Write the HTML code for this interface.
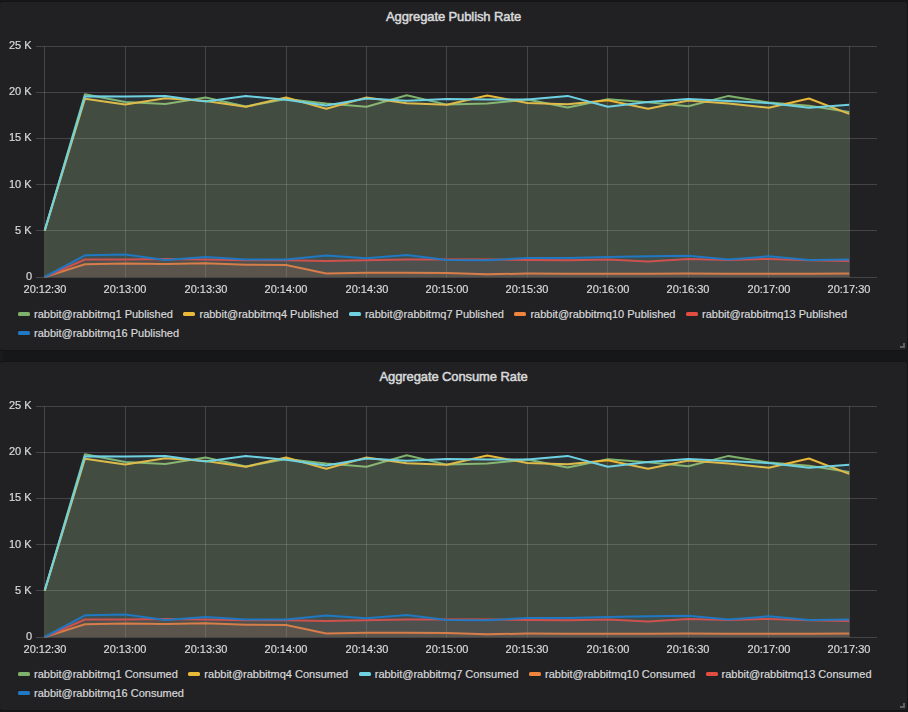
<!DOCTYPE html>
<html><head><meta charset="utf-8"><style>
html,body{margin:0;padding:0;}
body{width:908px;height:712px;background:#161719;position:relative;overflow:hidden;font-family:"Liberation Sans",sans-serif;}
.panel{position:absolute;left:-1px;width:907px;height:348px;background:#212124;border:1px solid #141414;border-radius:3px;}
.wrap{position:absolute;left:0;width:908px;height:360px;}
.title{position:absolute;left:0;width:907px;top:9px;text-align:center;font-size:13px;font-weight:normal;color:#d8d9da;-webkit-text-stroke:0.5px #d8d9da;letter-spacing:-0.1px;line-height:16px;}
.plot{position:absolute;left:0;top:0;}
.yl{will-change:transform;position:absolute;right:876px;font-size:11px;line-height:13px;color:#d8d9da;white-space:nowrap;-webkit-text-stroke:0.2px #d8d9da;}
.xl{will-change:transform;position:absolute;width:80px;text-align:center;top:283px;font-size:11px;line-height:13px;color:#d8d9da;-webkit-text-stroke:0.2px #d8d9da;}
.legend{position:absolute;left:8px;top:305px;width:880px;font-size:11px;line-height:19px;color:#d8d9da;-webkit-text-stroke:0.2px #d8d9da;}
.li{display:inline-block;padding-left:10px;margin-right:0.5px;white-space:nowrap;}
.li i{display:inline-block;width:12px;height:4px;border-radius:1.5px;margin-right:4px;vertical-align:middle;position:relative;top:-1px;}
.rh{position:absolute;left:900px;top:343px;width:5px;height:5px;}
.rh:before{content:"";position:absolute;right:0;bottom:0;width:2px;height:5px;background:#606060;}
.rh:after{content:"";position:absolute;right:0;bottom:0;width:5px;height:2px;background:#606060;}
</style></head><body>
<div class="panel" style="top:1px"></div><div class="wrap" style="top:0px">
<div class="title">Aggregate Publish Rate</div>
<svg class="plot" width="907" height="300" viewBox="0 0 907 300"><path d="M36 46.5H877 M36 92.5H877 M36 138.5H877 M36 184.5H877 M36 230.5H877 M36 277.5H877 M44.5 46.5V277.5 M125.5 46.5V277.5 M205.5 46.5V277.5 M286.5 46.5V277.5 M366.5 46.5V277.5 M446.5 46.5V277.5 M527.5 46.5V277.5 M607.5 46.5V277.5 M688.5 46.5V277.5 M768.5 46.5V277.5 M849.5 46.5V277.5" stroke="rgba(200,200,200,0.22)" stroke-width="1" fill="none"/>
<path d="M44.70 230.50 L84.93 94.30 L125.15 102.10 L165.38 104.00 L205.60 97.60 L245.82 106.60 L286.05 98.90 L326.27 103.50 L366.50 106.80 L406.73 95.30 L446.95 104.60 L487.18 103.50 L527.40 99.50 L567.63 107.40 L607.85 99.20 L648.08 102.30 L688.30 106.20 L728.53 95.90 L768.75 102.50 L808.98 105.70 L849.20 111.90 L849.20 277.1 L44.70 277.1 Z" fill="#7EB26D" fill-opacity="0.107" stroke="none"/>
<path d="M44.70 230.50 L84.93 94.30 L125.15 102.10 L165.38 104.00 L205.60 97.60 L245.82 106.60 L286.05 98.90 L326.27 103.50 L366.50 106.80 L406.73 95.30 L446.95 104.60 L487.18 103.50 L527.40 99.50 L567.63 107.40 L607.85 99.20 L648.08 102.30 L688.30 106.20 L728.53 95.90 L768.75 102.50 L808.98 105.70 L849.20 111.90" fill="none" stroke="#7EB26D" stroke-width="2" stroke-linejoin="round"/>
<path d="M44.70 230.70 L84.93 98.80 L125.15 104.40 L165.38 98.20 L205.60 101.00 L245.82 106.70 L286.05 97.50 L326.27 108.80 L366.50 97.50 L406.73 103.20 L446.95 104.70 L487.18 95.50 L527.40 102.90 L567.63 104.30 L607.85 100.30 L648.08 108.80 L688.30 100.60 L728.53 103.50 L768.75 107.70 L808.98 98.50 L849.20 113.90 L849.20 277.1 L44.70 277.1 Z" fill="#EAB839" fill-opacity="0.107" stroke="none"/>
<path d="M44.70 230.70 L84.93 98.80 L125.15 104.40 L165.38 98.20 L205.60 101.00 L245.82 106.70 L286.05 97.50 L326.27 108.80 L366.50 97.50 L406.73 103.20 L446.95 104.70 L487.18 95.50 L527.40 102.90 L567.63 104.30 L607.85 100.30 L648.08 108.80 L688.30 100.60 L728.53 103.50 L768.75 107.70 L808.98 98.50 L849.20 113.90" fill="none" stroke="#EAB839" stroke-width="2" stroke-linejoin="round"/>
<path d="M44.70 230.40 L84.93 96.30 L125.15 96.50 L165.38 96.00 L205.60 101.50 L245.82 95.90 L286.05 99.80 L326.27 105.40 L366.50 98.50 L406.73 100.80 L446.95 98.90 L487.18 99.50 L527.40 99.50 L567.63 95.90 L607.85 106.80 L648.08 101.90 L688.30 99.00 L728.53 100.90 L768.75 103.00 L808.98 107.70 L849.20 104.70 L849.20 277.1 L44.70 277.1 Z" fill="#6ED0E0" fill-opacity="0.107" stroke="none"/>
<path d="M44.70 230.40 L84.93 96.30 L125.15 96.50 L165.38 96.00 L205.60 101.50 L245.82 95.90 L286.05 99.80 L326.27 105.40 L366.50 98.50 L406.73 100.80 L446.95 98.90 L487.18 99.50 L527.40 99.50 L567.63 95.90 L607.85 106.80 L648.08 101.90 L688.30 99.00 L728.53 100.90 L768.75 103.00 L808.98 107.70 L849.20 104.70" fill="none" stroke="#6ED0E0" stroke-width="2" stroke-linejoin="round"/>
<path d="M44.70 277.00 L84.93 264.30 L125.15 263.50 L165.38 263.90 L205.60 263.30 L245.82 264.70 L286.05 265.00 L326.27 273.40 L366.50 272.70 L406.73 272.80 L446.95 273.00 L487.18 274.20 L527.40 273.60 L567.63 273.80 L607.85 273.80 L648.08 273.80 L688.30 273.60 L728.53 273.80 L768.75 273.80 L808.98 273.80 L849.20 273.40 L849.20 277.1 L44.70 277.1 Z" fill="#EF843C" fill-opacity="0.107" stroke="none"/>
<path d="M44.70 277.00 L84.93 264.30 L125.15 263.50 L165.38 263.90 L205.60 263.30 L245.82 264.70 L286.05 265.00 L326.27 273.40 L366.50 272.70 L406.73 272.80 L446.95 273.00 L487.18 274.20 L527.40 273.60 L567.63 273.80 L607.85 273.80 L648.08 273.80 L688.30 273.60 L728.53 273.80 L768.75 273.80 L808.98 273.80 L849.20 273.40" fill="none" stroke="#EF843C" stroke-width="2" stroke-linejoin="round"/>
<path d="M44.70 277.00 L84.93 259.50 L125.15 259.50 L165.38 258.90 L205.60 259.50 L245.82 260.30 L286.05 260.30 L326.27 260.90 L366.50 260.30 L406.73 259.50 L446.95 259.50 L487.18 259.50 L527.40 259.90 L567.63 260.30 L607.85 259.50 L648.08 261.50 L688.30 258.90 L728.53 259.90 L768.75 258.90 L808.98 260.30 L849.20 260.90 L849.20 277.1 L44.70 277.1 Z" fill="#E24D42" fill-opacity="0.107" stroke="none"/>
<path d="M44.70 277.00 L84.93 259.50 L125.15 259.50 L165.38 258.90 L205.60 259.50 L245.82 260.30 L286.05 260.30 L326.27 260.90 L366.50 260.30 L406.73 259.50 L446.95 259.50 L487.18 259.50 L527.40 259.90 L567.63 260.30 L607.85 259.50 L648.08 261.50 L688.30 258.90 L728.53 259.90 L768.75 258.90 L808.98 260.30 L849.20 260.90" fill="none" stroke="#E24D42" stroke-width="2" stroke-linejoin="round"/>
<path d="M44.70 277.00 L84.93 255.30 L125.15 254.50 L165.38 259.90 L205.60 256.90 L245.82 259.50 L286.05 259.50 L326.27 255.50 L366.50 258.30 L406.73 254.90 L446.95 259.90 L487.18 260.30 L527.40 257.90 L567.63 257.90 L607.85 256.90 L648.08 256.30 L688.30 255.70 L728.53 259.50 L768.75 256.30 L808.98 259.90 L849.20 259.50 L849.20 277.1 L44.70 277.1 Z" fill="#1F78C1" fill-opacity="0.107" stroke="none"/>
<path d="M44.70 277.00 L84.93 255.30 L125.15 254.50 L165.38 259.90 L205.60 256.90 L245.82 259.50 L286.05 259.50 L326.27 255.50 L366.50 258.30 L406.73 254.90 L446.95 259.90 L487.18 260.30 L527.40 257.90 L567.63 257.90 L607.85 256.90 L648.08 256.30 L688.30 255.70 L728.53 259.50 L768.75 256.30 L808.98 259.90 L849.20 259.50" fill="none" stroke="#1F78C1" stroke-width="2" stroke-linejoin="round"/></svg>
<div class="yl" style="top:39px">25 K</div><div class="yl" style="top:85px">20 K</div><div class="yl" style="top:131px">15 K</div><div class="yl" style="top:178px">10 K</div><div class="yl" style="top:224px">5 K</div><div class="yl" style="top:270px">0</div><div class="xl" style="left:4.7px">20:12:30</div><div class="xl" style="left:85.2px">20:13:00</div><div class="xl" style="left:165.6px">20:13:30</div><div class="xl" style="left:246.1px">20:14:00</div><div class="xl" style="left:326.5px">20:14:30</div><div class="xl" style="left:406.9px">20:15:00</div><div class="xl" style="left:487.4px">20:15:30</div><div class="xl" style="left:567.9px">20:16:00</div><div class="xl" style="left:648.3px">20:16:30</div><div class="xl" style="left:728.8px">20:17:00</div><div class="xl" style="left:809.2px">20:17:30</div>
<div class="legend"><span class="li"><i style="background:#7EB26D"></i>rabbit@rabbitmq1 Published</span><span class="li"><i style="background:#EAB839"></i>rabbit@rabbitmq4 Published</span><span class="li"><i style="background:#6ED0E0"></i>rabbit@rabbitmq7 Published</span><span class="li"><i style="background:#EF843C"></i>rabbit@rabbitmq10 Published</span><span class="li"><i style="background:#E24D42"></i>rabbit@rabbitmq13 Published</span><span class="li"><i style="background:#1F78C1"></i>rabbit@rabbitmq16 Published</span></div>
<div class="rh"></div>
</div>
<div class="panel" style="top:361px"></div><div class="wrap" style="top:360px">
<div class="title">Aggregate Consume Rate</div>
<svg class="plot" width="907" height="300" viewBox="0 0 907 300"><path d="M36 46.5H877 M36 92.5H877 M36 138.5H877 M36 184.5H877 M36 230.5H877 M36 277.5H877 M44.5 46.5V277.5 M125.5 46.5V277.5 M205.5 46.5V277.5 M286.5 46.5V277.5 M366.5 46.5V277.5 M446.5 46.5V277.5 M527.5 46.5V277.5 M607.5 46.5V277.5 M688.5 46.5V277.5 M768.5 46.5V277.5 M849.5 46.5V277.5" stroke="rgba(200,200,200,0.22)" stroke-width="1" fill="none"/>
<path d="M44.70 230.50 L84.93 94.30 L125.15 102.10 L165.38 104.00 L205.60 97.60 L245.82 106.60 L286.05 98.90 L326.27 103.50 L366.50 106.80 L406.73 95.30 L446.95 104.60 L487.18 103.50 L527.40 99.50 L567.63 107.40 L607.85 99.20 L648.08 102.30 L688.30 106.20 L728.53 95.90 L768.75 102.50 L808.98 105.70 L849.20 111.90 L849.20 277.1 L44.70 277.1 Z" fill="#7EB26D" fill-opacity="0.107" stroke="none"/>
<path d="M44.70 230.50 L84.93 94.30 L125.15 102.10 L165.38 104.00 L205.60 97.60 L245.82 106.60 L286.05 98.90 L326.27 103.50 L366.50 106.80 L406.73 95.30 L446.95 104.60 L487.18 103.50 L527.40 99.50 L567.63 107.40 L607.85 99.20 L648.08 102.30 L688.30 106.20 L728.53 95.90 L768.75 102.50 L808.98 105.70 L849.20 111.90" fill="none" stroke="#7EB26D" stroke-width="2" stroke-linejoin="round"/>
<path d="M44.70 230.70 L84.93 98.80 L125.15 104.40 L165.38 98.20 L205.60 101.00 L245.82 106.70 L286.05 97.50 L326.27 108.80 L366.50 97.50 L406.73 103.20 L446.95 104.70 L487.18 95.50 L527.40 102.90 L567.63 104.30 L607.85 100.30 L648.08 108.80 L688.30 100.60 L728.53 103.50 L768.75 107.70 L808.98 98.50 L849.20 113.90 L849.20 277.1 L44.70 277.1 Z" fill="#EAB839" fill-opacity="0.107" stroke="none"/>
<path d="M44.70 230.70 L84.93 98.80 L125.15 104.40 L165.38 98.20 L205.60 101.00 L245.82 106.70 L286.05 97.50 L326.27 108.80 L366.50 97.50 L406.73 103.20 L446.95 104.70 L487.18 95.50 L527.40 102.90 L567.63 104.30 L607.85 100.30 L648.08 108.80 L688.30 100.60 L728.53 103.50 L768.75 107.70 L808.98 98.50 L849.20 113.90" fill="none" stroke="#EAB839" stroke-width="2" stroke-linejoin="round"/>
<path d="M44.70 230.40 L84.93 96.30 L125.15 96.50 L165.38 96.00 L205.60 101.50 L245.82 95.90 L286.05 99.80 L326.27 105.40 L366.50 98.50 L406.73 100.80 L446.95 98.90 L487.18 99.50 L527.40 99.50 L567.63 95.90 L607.85 106.80 L648.08 101.90 L688.30 99.00 L728.53 100.90 L768.75 103.00 L808.98 107.70 L849.20 104.70 L849.20 277.1 L44.70 277.1 Z" fill="#6ED0E0" fill-opacity="0.107" stroke="none"/>
<path d="M44.70 230.40 L84.93 96.30 L125.15 96.50 L165.38 96.00 L205.60 101.50 L245.82 95.90 L286.05 99.80 L326.27 105.40 L366.50 98.50 L406.73 100.80 L446.95 98.90 L487.18 99.50 L527.40 99.50 L567.63 95.90 L607.85 106.80 L648.08 101.90 L688.30 99.00 L728.53 100.90 L768.75 103.00 L808.98 107.70 L849.20 104.70" fill="none" stroke="#6ED0E0" stroke-width="2" stroke-linejoin="round"/>
<path d="M44.70 277.00 L84.93 264.30 L125.15 263.50 L165.38 263.90 L205.60 263.30 L245.82 264.70 L286.05 265.00 L326.27 273.40 L366.50 272.70 L406.73 272.80 L446.95 273.00 L487.18 274.20 L527.40 273.60 L567.63 273.80 L607.85 273.80 L648.08 273.80 L688.30 273.60 L728.53 273.80 L768.75 273.80 L808.98 273.80 L849.20 273.40 L849.20 277.1 L44.70 277.1 Z" fill="#EF843C" fill-opacity="0.107" stroke="none"/>
<path d="M44.70 277.00 L84.93 264.30 L125.15 263.50 L165.38 263.90 L205.60 263.30 L245.82 264.70 L286.05 265.00 L326.27 273.40 L366.50 272.70 L406.73 272.80 L446.95 273.00 L487.18 274.20 L527.40 273.60 L567.63 273.80 L607.85 273.80 L648.08 273.80 L688.30 273.60 L728.53 273.80 L768.75 273.80 L808.98 273.80 L849.20 273.40" fill="none" stroke="#EF843C" stroke-width="2" stroke-linejoin="round"/>
<path d="M44.70 277.00 L84.93 259.50 L125.15 259.50 L165.38 258.90 L205.60 259.50 L245.82 260.30 L286.05 260.30 L326.27 260.90 L366.50 260.30 L406.73 259.50 L446.95 259.50 L487.18 259.50 L527.40 259.90 L567.63 260.30 L607.85 259.50 L648.08 261.50 L688.30 258.90 L728.53 259.90 L768.75 258.90 L808.98 260.30 L849.20 260.90 L849.20 277.1 L44.70 277.1 Z" fill="#E24D42" fill-opacity="0.107" stroke="none"/>
<path d="M44.70 277.00 L84.93 259.50 L125.15 259.50 L165.38 258.90 L205.60 259.50 L245.82 260.30 L286.05 260.30 L326.27 260.90 L366.50 260.30 L406.73 259.50 L446.95 259.50 L487.18 259.50 L527.40 259.90 L567.63 260.30 L607.85 259.50 L648.08 261.50 L688.30 258.90 L728.53 259.90 L768.75 258.90 L808.98 260.30 L849.20 260.90" fill="none" stroke="#E24D42" stroke-width="2" stroke-linejoin="round"/>
<path d="M44.70 277.00 L84.93 255.30 L125.15 254.50 L165.38 259.90 L205.60 256.90 L245.82 259.50 L286.05 259.50 L326.27 255.50 L366.50 258.30 L406.73 254.90 L446.95 259.90 L487.18 260.30 L527.40 257.90 L567.63 257.90 L607.85 256.90 L648.08 256.30 L688.30 255.70 L728.53 259.50 L768.75 256.30 L808.98 259.90 L849.20 259.50 L849.20 277.1 L44.70 277.1 Z" fill="#1F78C1" fill-opacity="0.107" stroke="none"/>
<path d="M44.70 277.00 L84.93 255.30 L125.15 254.50 L165.38 259.90 L205.60 256.90 L245.82 259.50 L286.05 259.50 L326.27 255.50 L366.50 258.30 L406.73 254.90 L446.95 259.90 L487.18 260.30 L527.40 257.90 L567.63 257.90 L607.85 256.90 L648.08 256.30 L688.30 255.70 L728.53 259.50 L768.75 256.30 L808.98 259.90 L849.20 259.50" fill="none" stroke="#1F78C1" stroke-width="2" stroke-linejoin="round"/></svg>
<div class="yl" style="top:39px">25 K</div><div class="yl" style="top:85px">20 K</div><div class="yl" style="top:131px">15 K</div><div class="yl" style="top:178px">10 K</div><div class="yl" style="top:224px">5 K</div><div class="yl" style="top:270px">0</div><div class="xl" style="left:4.7px">20:12:30</div><div class="xl" style="left:85.2px">20:13:00</div><div class="xl" style="left:165.6px">20:13:30</div><div class="xl" style="left:246.1px">20:14:00</div><div class="xl" style="left:326.5px">20:14:30</div><div class="xl" style="left:406.9px">20:15:00</div><div class="xl" style="left:487.4px">20:15:30</div><div class="xl" style="left:567.9px">20:16:00</div><div class="xl" style="left:648.3px">20:16:30</div><div class="xl" style="left:728.8px">20:17:00</div><div class="xl" style="left:809.2px">20:17:30</div>
<div class="legend"><span class="li"><i style="background:#7EB26D"></i>rabbit@rabbitmq1 Consumed</span><span class="li"><i style="background:#EAB839"></i>rabbit@rabbitmq4 Consumed</span><span class="li"><i style="background:#6ED0E0"></i>rabbit@rabbitmq7 Consumed</span><span class="li"><i style="background:#EF843C"></i>rabbit@rabbitmq10 Consumed</span><span class="li"><i style="background:#E24D42"></i>rabbit@rabbitmq13 Consumed</span><span class="li"><i style="background:#1F78C1"></i>rabbit@rabbitmq16 Consumed</span></div>
<div class="rh"></div>
</div>
<div style="position:absolute;left:0;top:351px;width:3px;height:10px;background:#1a1b1d"></div>
</body></html>
